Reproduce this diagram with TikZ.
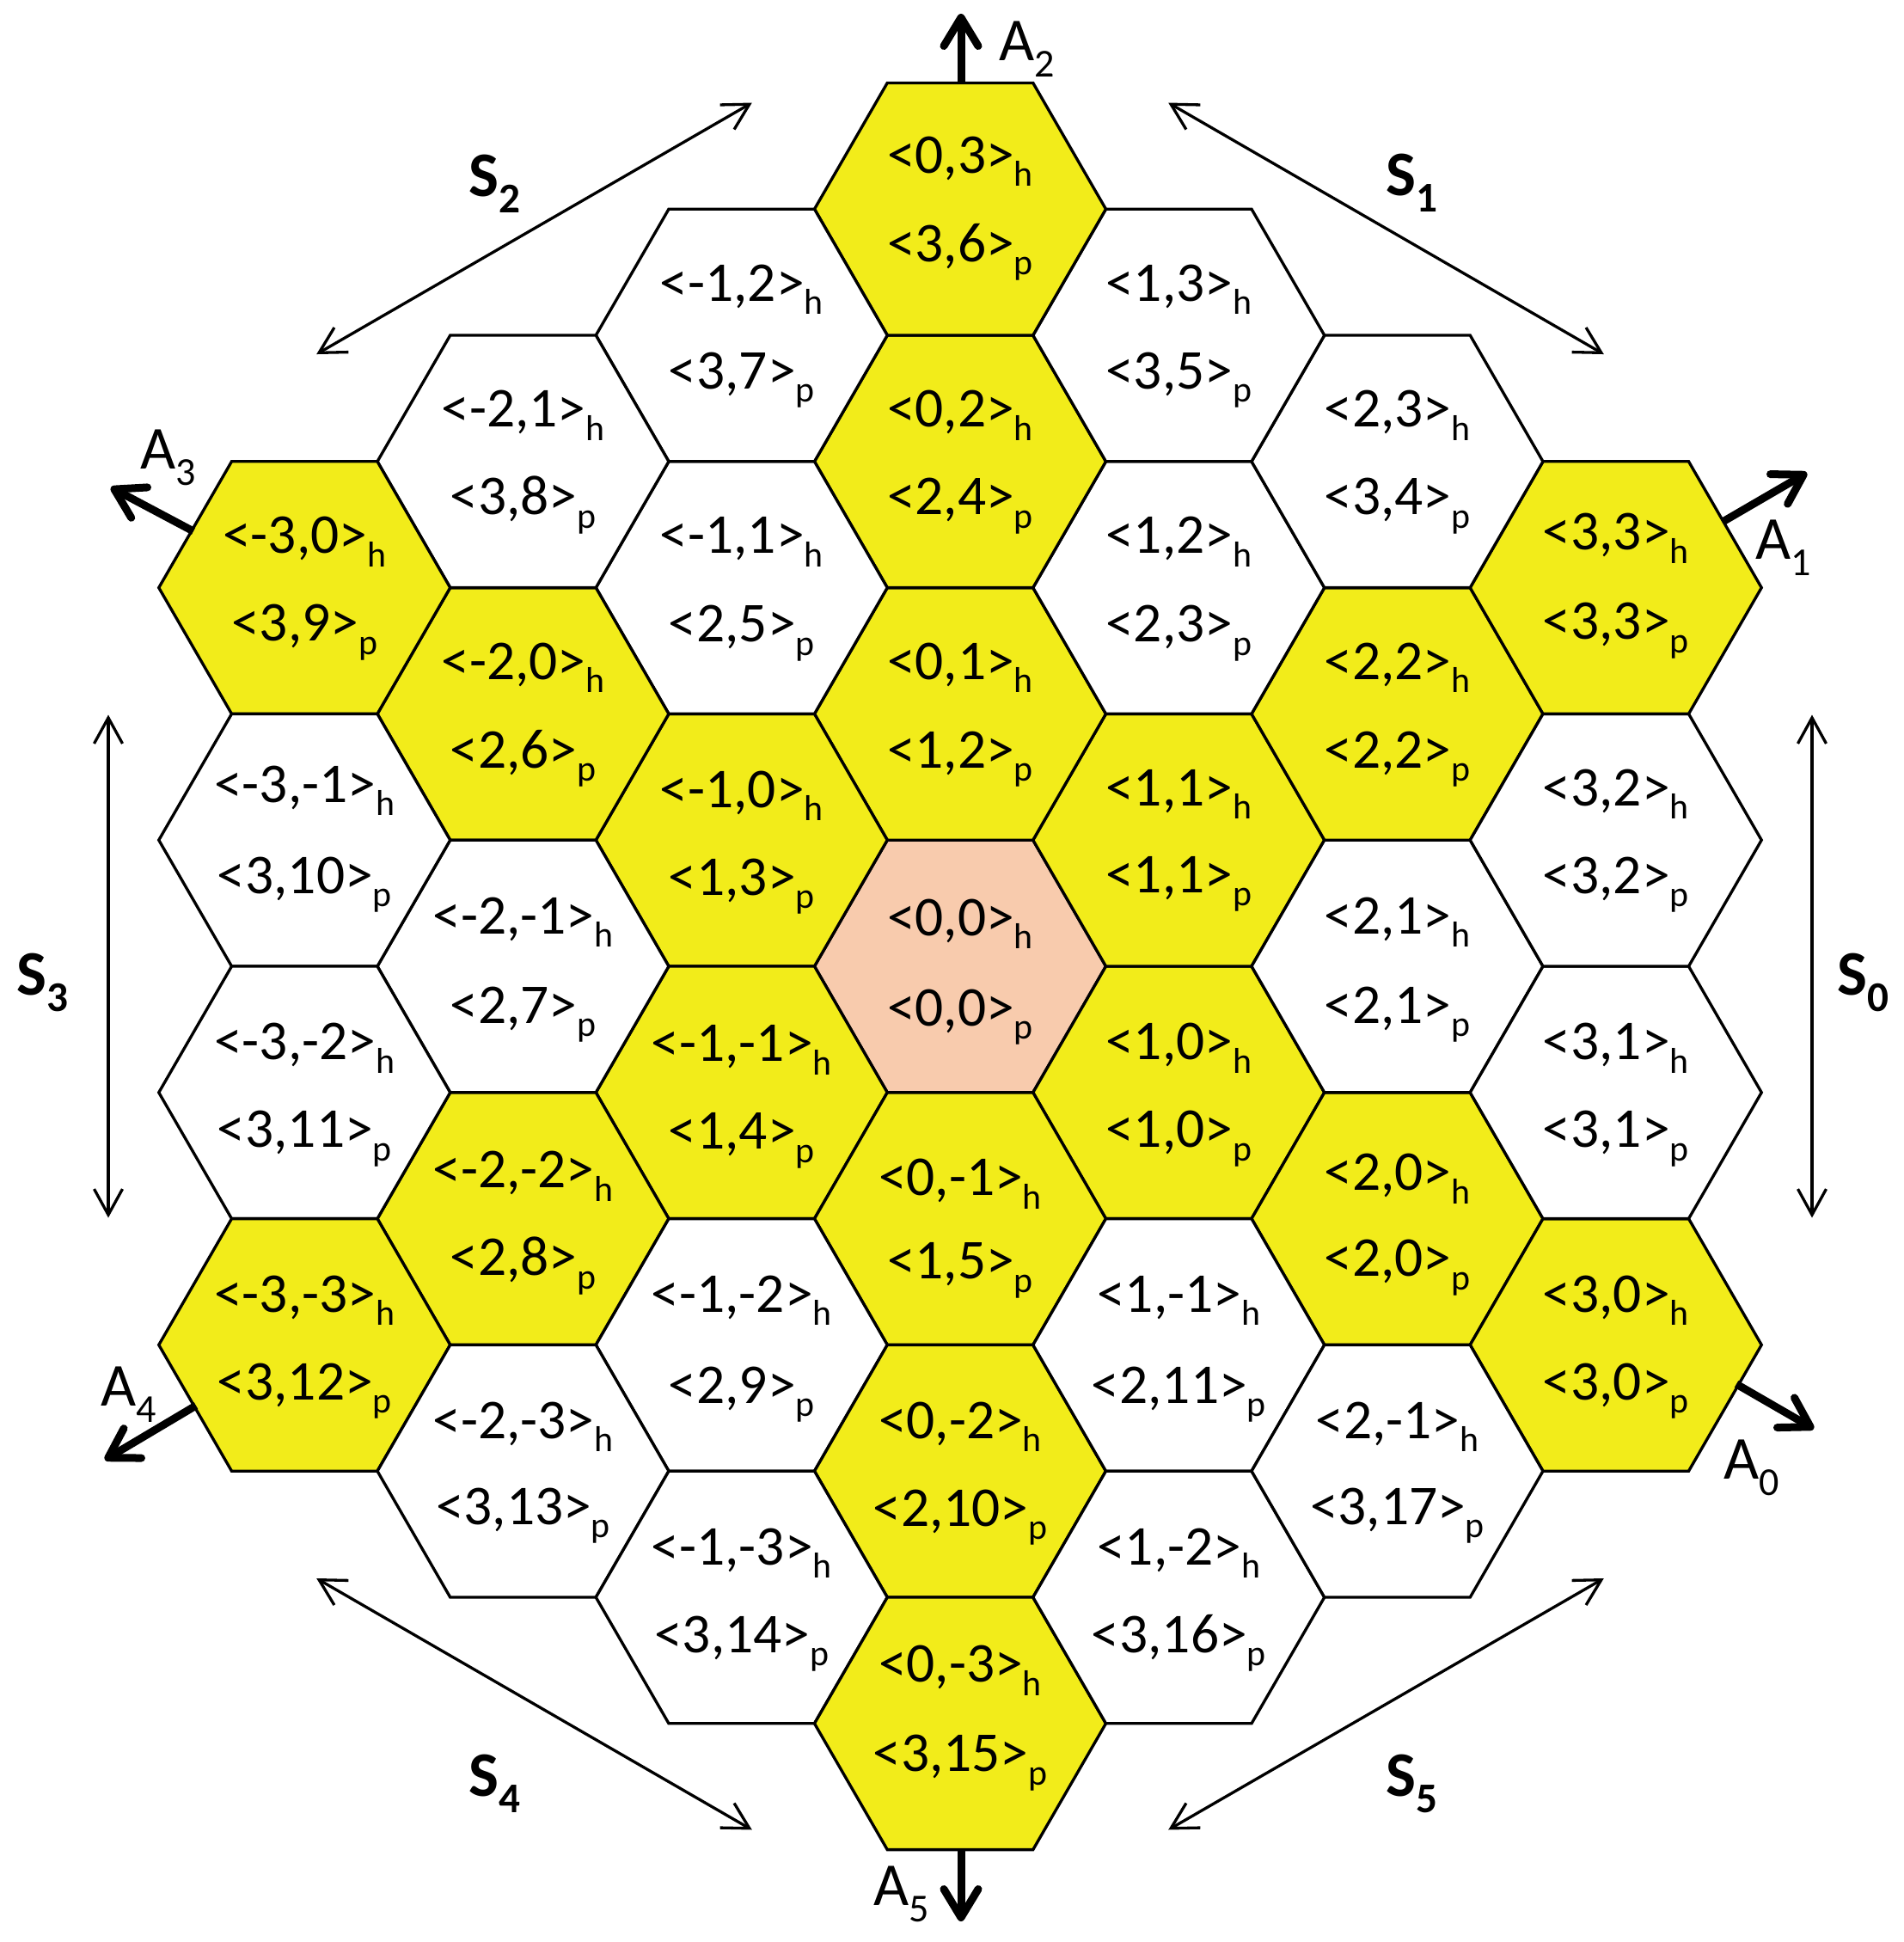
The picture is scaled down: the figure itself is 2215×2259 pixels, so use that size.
\documentclass[tikz,border=0pt]{standalone}
\usepackage{fontspec}
\setmainfont{Carlito}
\usetikzlibrary{arrows.meta,calc}
\definecolor{hexyellow}{RGB}{242,236,26}
\definecolor{hexpeach}{RGB}{248,203,173}
\newcommand\hsub[1]{{\fontsize{11.9}{11.9}\selectfont\raisebox{-4.4pt}{#1}}}
\newcommand\asub[1]{{\fontsize{13.1}{13.1}\selectfont\raisebox{-5.4pt}{#1}}}
\newcommand\ssub[1]{{\fontsize{14}{14}\selectfont\raisebox{-5.4pt}{#1}}}
\tikzset{
  cell/.style={draw=black, line width=0.95pt, line join=miter},
  celltext/.style={font=\fontsize{18.6}{18.6}\selectfont, anchor=base, inner sep=0pt},
  axisarrow/.style={line width=2.56pt, -{Straight Barb[round,length=0.33cm,width=0.40cm]}},
  sidearrow/.style={line width=0.94pt, {Straight Barb[length=0.30cm,width=0.33cm]}-{Straight Barb[length=0.30cm,width=0.33cm]}},
  alabel/.style={font=\fontsize{20.2}{20.2}\selectfont, anchor=base west, inner sep=0pt},
  slabel/.style={font=\bfseries\fontsize{21}{21}\selectfont, anchor=base west, inner sep=0pt},
}
\begin{document}
\begin{tikzpicture}[x=0.01cm, y=-0.01cm]
\useasboundingbox (0,0) rectangle (2215,2259);
\coordinate (C) at (1117,1124);
% a / b / ring / index / fill / offset of h line / offset of p line
\foreach \a/\b/\r/\i/\col/\dh/\dp in {
  0/0/0/0/hexpeach/-36/69,
  1/0/1/0/hexyellow/-38/64, 1/1/1/1/hexyellow/-40/61, 0/1/1/2/hexyellow/-40/63, -1/0/1/3/hexyellow/-38/64, -1/-1/1/4/hexyellow/-36/66, 0/-1/1/5/hexyellow/-27/70,
  2/0/2/0/hexyellow/-33/67, 2/1/2/1/white/-38/66, 2/2/2/2/hexyellow/-40/63, 1/2/2/3/white/-40/63, 0/2/2/4/hexyellow/-40/62, -1/1/2/5/white/-40/63,
  -2/0/2/6/hexyellow/-40/63, -2/-1/2/7/white/-38/66, -2/-2/2/8/hexyellow/-36/66, -1/-2/2/9/white/-38/68, 0/-2/2/10/hexyellow/-38/64, 1/-1/2/11/white/-38/68,
  3/0/3/0/hexyellow/-38/64, 3/1/3/1/white/-38/64, 3/2/3/2/white/-40/62, 3/3/3/3/hexyellow/-44/60, 2/3/3/4/white/-40/62, 1/3/3/5/white/-40/62,
  0/3/3/6/hexyellow/-42/61, -1/2/3/7/white/-40/62, -2/1/3/8/white/-40/62, -3/0/3/9/hexyellow/-40/62, -3/-1/3/10/white/-44/62, -3/-2/3/11/white/-38/64,
  -3/-3/3/12/hexyellow/-38/64, -2/-3/3/13/white/-38/62, -1/-3/3/14/white/-38/64, 0/-3/3/15/hexyellow/-48/56, 1/-2/3/16/white/-38/64, 2/-1/3/17/white/-38/62}{
  \pgfmathsetmacro\cx{1117+254.25*\a}
  \pgfmathsetmacro\cy{1124-293.6*\b+146.8*\a}
  \draw[cell, fill=\col] (\cx,\cy) +(0:169.5) -- +(60:169.5) -- +(120:169.5) -- +(180:169.5) -- +(240:169.5) -- +(300:169.5) -- cycle;
  \node[celltext] (h\r-\i) at (\cx,\cy+\dh) {<\a,\b>\hsub{h}};
  \node[celltext] (p\r-\i) at (\cx,\cy+\dp) {<\r,\i>\hsub{p}};
}
% axis arrows
\coordinate (A0s) at (2020,1610); \coordinate (A0e) at (2110,1662);
\coordinate (A1s) at (2004,607);  \coordinate (A1e) at (2102,550);
\coordinate (A2s) at (1118,98);   \coordinate (A2e) at (1118,16);
\coordinate (A3s) at (225,618);   \coordinate (A3e) at (129,567);
\coordinate (A4s) at (228,1635);  \coordinate (A4e) at (122,1698);
\coordinate (A5s) at (1118,2151); \coordinate (A5e) at (1118,2235);
\foreach \k in {0,...,5}{ \draw[axisarrow] (A\k s) -- (A\k e); }
\node[alabel] (lA0) at (2005,1720) {A\asub{0}};
\node[alabel] (lA1) at (2042,650) {A\asub{1}};
\node[alabel] (lA2) at (1162,70) {A\asub{2}};
\node[alabel] (lA3) at (163,545) {A\asub{3}};
\node[alabel] (lA4) at (117,1635) {A\asub{4}};
\node[alabel] (lA5) at (1016,2216) {A\asub{5}};
% side arrows
\foreach \k in {0,...,5}{
  \coordinate (S\k a) at ($(C)+(\k*60:991)+(\k*60+90:292.5)$);
  \coordinate (S\k b) at ($(C)+(\k*60:991)+(\k*60-90:292.5)$);
  \draw[sidearrow] (S\k a) -- (S\k b);
}
\node[slabel] (lS0) at (2137,1157) {S\ssub{0}};
\node[slabel] (lS1) at (1612,227) {S\ssub{1}};
\node[slabel] (lS2) at (545,228) {S\ssub{2}};
\node[slabel] (lS3) at (19,1157) {S\ssub{3}};
\node[slabel] (lS4) at (545,2089) {S\ssub{4}};
\node[slabel] (lS5) at (1612,2089) {S\ssub{5}};
\end{tikzpicture}
\end{document}
